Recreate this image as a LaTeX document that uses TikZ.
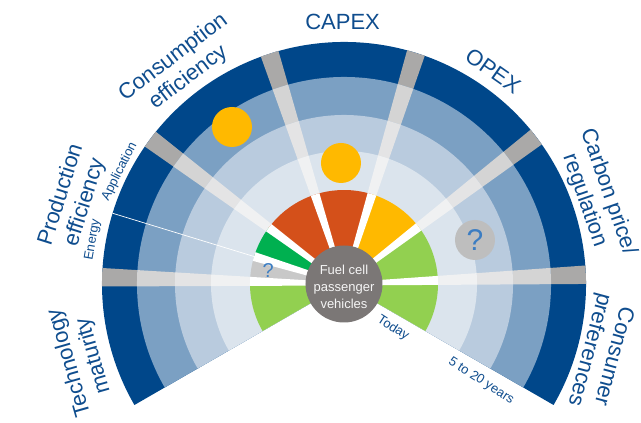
\documentclass[tikz,border=0pt]{standalone}
\usepackage{fontspec}
\setmainfont{Liberation Sans}
\usetikzlibrary{calc}
\definecolor{dblue}{HTML}{00478A}
\definecolor{mblue}{HTML}{7BA0C3}
\definecolor{lblue}{HTML}{B9CBDE}
\definecolor{vlblue}{HTML}{DBE4ED}
\definecolor{gapA}{HTML}{AAA9A8}
\definecolor{gapB}{HTML}{D4D4D4}
\definecolor{gapC}{HTML}{E4E4E5}
\definecolor{gapD}{HTML}{F0F1F2}
\definecolor{txtblue}{HTML}{0F4D8E}
\definecolor{redor}{HTML}{D4501A}
\definecolor{amber}{HTML}{FFB900}
\definecolor{lgreen}{HTML}{92D050}
\definecolor{dgreen}{HTML}{00B050}
\definecolor{qgray}{HTML}{C8C8C8}
\definecolor{cgray}{HTML}{7B7776}
\definecolor{qblue}{HTML}{3C7DC2}
\def\gapangles{2.2,37.4,72.7,107.9,143.2,178.4}
\def\innergaps{2.2,37.4,72.7,107.9,143.2,163,178.4}
\newcommand\myring[2]{\fill[#1] (0,0) -- (-30:#2) arc[start angle=-30,end angle=210,radius=#2] -- cycle;}
\newcommand\mygaps[3]{\foreach \a in #3 {\fill[#1] ({\a+90}:1.5) -- ($({\a}:#2)+({\a+90}:{1.5+0.032*#2})$) -- ($({\a}:#2)+({\a-90}:{1.5+0.032*#2})$) -- ({\a-90}:1.5) -- cycle;}}
\newcommand\mysector[3]{\fill[#1] (0,0) -- (#2:94) arc[start angle=#2,end angle=#3,radius=94] -- cycle;}
\tikzset{
  biglab/.style={text=txtblue, font=\fontsize{22}{25}\selectfont, align=center, inner sep=0pt},
  smalllab/.style={text=txtblue, font=\fontsize{13}{15}\selectfont, inner sep=0pt},
  dot/.style={circle, minimum size=40pt, inner sep=0pt}
}
\begin{document}
\begin{tikzpicture}[x=1pt,y=1pt]
\useasboundingbox[fill=white] (-344,-139) rectangle (297,284);
% rings
\myring{dblue}{242}
\mygaps{gapA}{242}{\gapangles}
\myring{mblue}{207}
\mygaps{gapB}{207}{\gapangles}
\myring{lblue}{169}
\mygaps{gapC}{169}{\gapangles}
\myring{vlblue}{133}
\mygaps{gapD}{133}{\gapangles}
% divider between Energy and Application
\draw[white, line width=0.7pt] (163:94) -- (163:242);
% inner coloured sectors
\mysector{lgreen}{178.4}{210}
\mysector{qgray}{163}{178.4}
\mysector{dgreen}{143.2}{163}
\mysector{redor}{107.9}{143.2}
\mysector{redor}{72.7}{107.9}
\mysector{amber}{37.4}{72.7}
\mysector{lgreen}{2.2}{37.4}
\mysector{lgreen}{-30}{2.2}
\mygaps{white}{94}{\innergaps}
% centre
\node[circle, fill=cgray, minimum size=77pt, inner sep=0pt] (fcv) at (0,0) {};
\node[text=white!92!gray, font=\fontsize{13}{17}\selectfont, align=center, inner sep=0pt] (fcvt) at (0,-3) {Fuel cell\\passenger\\vehicles};
% markers
\node[text=qblue, font=\fontsize{20}{20}\selectfont, inner sep=0pt] (q1) at (169.6:77) {?};
\node[dot, fill=amber] (c1) at (-112,157) {};
\node[dot, fill=amber] (c2) at (-3,121) {};
\node[dot, fill=qgray!95!black, text=qblue, font=\fontsize{30}{30}\selectfont] (q2) at (131,44) {?};
% labels
\node[biglab] (capex) at (90.3:262) {CAPEX};
\node[biglab, rotate=-35] (opex) at (55:260) {OPEX};
\node[biglab, rotate=37] (cons) at (127:271) {Consumption\\efficiency};
\node[biglab, rotate=72.5] (prod) at (162.5:284) {Production\\efficiency};
\node[biglab, rotate=106] (tech) at (196:273) {Technology\\maturity};
\node[biglab, rotate=-70.8] (carb) at (19.2:267) {Carbon price/\\regulation};
\node[biglab, rotate=-105] (consu) at (-15:266) {Consumer\\preferences};
\node[smalllab, rotate=63.4] (app) at (153.4:251) {Application};
\node[smalllab, rotate=80] (ener) at (170:255) {Energy};
\node[smalllab, rotate=-33] (today) at (-42:66) {Today};
\node[smalllab, rotate=-33] (yrs) at (-35.3:168) {5 to 20 years};
\end{tikzpicture}
\end{document}
